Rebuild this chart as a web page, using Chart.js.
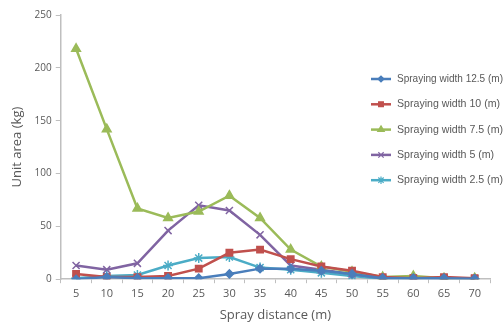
<!DOCTYPE html>
<html>
<head>
<meta charset="utf-8">
<script src="https://cdn.jsdelivr.net/npm/chart.js@4.4.0/dist/chart.umd.min.js"></script>
<style>
  html, body { margin: 0; padding: 0; background: #fff; }
  #wrap { width: 504px; height: 325px; }
</style>
</head>
<body>
<div id="wrap"><canvas id="chart"></canvas></div>
<script>
const distances = ["5", "10", "15", "20", "25", "30", "35", "40", "45", "50", "55", "60", "65", "70"];
const width125 = [0, 2, 1, 1, 1, 5, 10, 10, 8, 5, 1, 1, 1, 0.5];
const width10 = [5, 2, 2, 3, 10, 25, 28, 19, 12, 8, 2, 1, 2, 1];
const width75 = [218, 142, 67, 58, 64, 79, 58, 28, 12, 7, 2, 3, 1, 1];
const width5 = [13, 9, 15, 46, 70, 65, 42, 13, 9, 5, 1, 1, 0.5, 0.5];
const width25 = [1, 3, 4, 13, 20, 21, 11, 9, 6, 3, 0.5, 0.5, 0, 0];
const yTicks = [0, 50, 100, 150, 200, 250];

const fontFamily = "'Open Sans', 'Noto Sans', sans-serif";
const legendFont = "'Liberation Sans', 'DejaVu Sans', sans-serif";
const textColor = "#595959";
const axisColor = "#bfbfbf";

function series(label, data, color, style, radius) {
  return {
    label: label,
    data: data,
    borderColor: color,
    backgroundColor: color,
    borderWidth: 2.5,
    pointStyle: style,
    pointRadius: radius,
    pointBorderWidth: 1.5,
    tension: 0
  };
}

// legend sits inside the plot area, on the right
const sideLegend = {
  id: "sideLegend",
  afterDraw(chart) {
    const ctx = chart.ctx;
    const sets = chart.data.datasets;
    ctx.save();
    ctx.font = "10.6px " + legendFont;
    ctx.textBaseline = "middle";
    sets.forEach((ds, i) => {
      const y = 79 + i * 25.3;
      ctx.strokeStyle = ds.borderColor;
      ctx.lineWidth = 2.5;
      ctx.beginPath();
      ctx.moveTo(371, y);
      ctx.lineTo(391, y);
      ctx.stroke();
      ctx.fillStyle = ds.backgroundColor;
      ctx.lineWidth = 1.2;
      Chart.helpers.drawPoint(ctx, {
        pointStyle: ds.pointStyle,
        radius: ds.pointRadius * 0.75,
        rotation: 0,
        borderWidth: 1.2
      }, 381, y);
      ctx.fillStyle = textColor;
      ctx.fillText(ds.label, 397, y, 106);
    });
    ctx.restore();
  }
};

new Chart(document.getElementById("chart"), {
  type: "line",
  data: {
    labels: distances,
    datasets: [
      series("Spraying width 12.5 (m)", width125, "#4a7ebb", "rectRot", 4),
      series("Spraying width 10 (m)", width10, "#c0504d", "rect", 4.5),
      series("Spraying width 7.5 (m)", width75, "#9bbb59", "triangle", 5),
      series("Spraying width 5 (m)", width5, "#8064a2", "crossRot", 5),
      series("Spraying width 2.5 (m)", width25, "#4bacc6", "star", 5)
    ]
  },
  options: {
    responsive: true,
    maintainAspectRatio: false,
    animation: false,
    layout: { padding: { top: 15, right: 14, left: 5, bottom: 0 } },
    plugins: {
      legend: { display: false },
      tooltip: { enabled: false }
    },
    scales: {
      x: {
        offset: true,
        grid: { display: true, drawOnChartArea: false, offset: true, tickLength: 4, color: axisColor },
        border: { color: axisColor, width: 1.5 },
        ticks: { color: textColor, font: { family: fontFamily, size: 11 }, maxRotation: 0, autoSkip: false, padding: 4 },
        title: { display: true, text: "Spray distance (m)", color: textColor, font: { family: fontFamily, size: 13 }, padding: { top: 3, bottom: 2 } }
      },
      y: {
        min: 0,
        max: 250,
        afterBuildTicks(axis) { axis.ticks = yTicks.map(v => ({ value: v })); },
        grid: { display: true, drawOnChartArea: false, tickLength: 5, color: axisColor },
        border: { color: axisColor, width: 1.5 },
        ticks: { color: textColor, font: { family: fontFamily, size: 10 }, padding: 4 },
        title: { display: true, text: "Unit area (kg)", color: textColor, font: { family: fontFamily, size: 13 }, padding: { bottom: 6 } }
      }
    }
  },
  plugins: [sideLegend]
});
</script>
</body>
</html>
